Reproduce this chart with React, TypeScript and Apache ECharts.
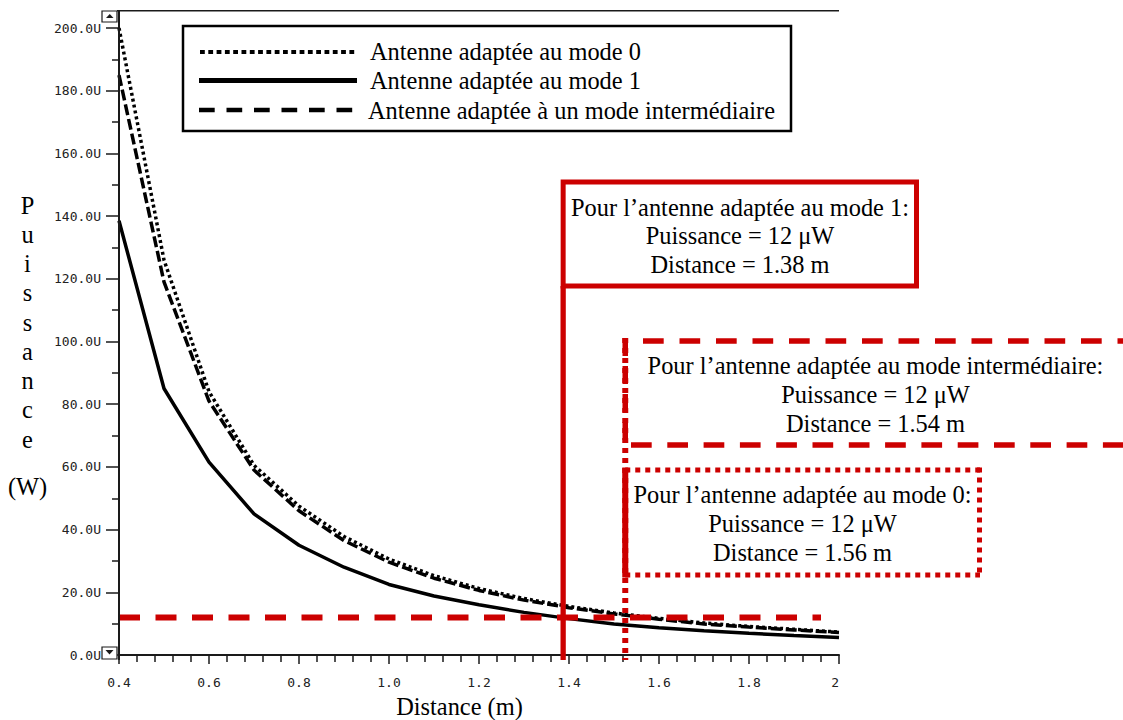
import React, { useEffect, useRef } from 'react';
import * as echarts from 'echarts';

// ---- Data ----
const distances = [0.4, 0.5, 0.6, 0.7, 0.8, 0.9, 1.0, 1.1, 1.2, 1.3, 1.4, 1.5, 1.6, 1.7, 1.8, 1.9, 2.0];
// Puissance (µW) — antenne adaptée au mode 0 (pointillés)
const puissanceMode0 = [200, 126, 84, 60.5, 47.5, 37.8, 30.6, 25.3, 21.2, 18, 15.5, 13.4, 11.7, 10.2, 9.1, 8.2, 7.3];
// Puissance (µW) — antenne adaptée au mode 1 (trait plein)
const puissanceMode1 = [138.5, 85, 61.5, 45, 35, 28, 22.5, 18.8, 16, 13.6, 11.6, 9.9, 8.7, 7.7, 6.9, 6.2, 5.6];
// Puissance (µW) — antenne adaptée à un mode intermédiaire (tirets)
const puissanceInter = [185, 119, 81, 59, 46, 36.5, 29.6, 24.5, 20.6, 17.5, 15.1, 13.1, 11.4, 9.9, 8.9, 8.0, 7.2];

const seuilPuissance = 12;
const seuilDistances = [0.4, 1.96];
const markerMode1 = 1.387;
const markerMode0 = 1.525;

const legendLabels = [
  'Antenne adaptée au mode 0',
  'Antenne adaptée au mode 1',
  'Antenne adaptée à un mode intermédiaire',
];
const box1Lines = ['Pour l’antenne adaptée au mode 1:', 'Puissance = 12 μW', 'Distance = 1.38 m'];
const boxInterLines = ['Pour l’antenne adaptée au mode intermédiaire:', 'Puissance = 12 μW', 'Distance = 1.54 m'];
const box0Lines = ['Pour l’antenne adaptée au mode 0:', 'Puissance = 12 μW', 'Distance = 1.56 m'];
const yNameLetters = ['P', 'u', 'i', 's', 's', 'a', 'n', 'c', 'e'];
const yNameUnit = '(W)';
const xName = 'Distance (m)';

export default function App() {
  const ref = useRef<HTMLDivElement>(null);

  useEffect(() => {
    const chart = echarts.init(ref.current!, null, { renderer: 'svg' });
    const red = '#cc0000';
    const ink = '#1a1a1a';
    const serif = '"Liberation Serif", "Times New Roman", serif';
    const mono = '"DejaVu Sans Mono", monospace';
    const font = `24.4px ${serif}`;
    const pairs = (ys: number[]) => distances.map((d, i) => [d, ys[i]]);

    chart.setOption({
      animation: false,
      backgroundColor: '#ffffff',
      grid: { left: 119, right: 284, top: 28, bottom: 65 },
      xAxis: {
        type: 'value',
        min: 0.4,
        max: 2,
        interval: 0.2,
        offset: 4,
        axisLine: { lineStyle: { color: ink, width: 2 } },
        axisTick: { show: true, length: 9, lineStyle: { color: ink, width: 1.5 } },
        minorTick: { show: true, splitNumber: 5, length: 7, lineStyle: { color: ink, width: 1.5 } },
        splitLine: { show: false },
        axisLabel: {
          margin: 17,
          fontFamily: mono,
          fontSize: 13,
          color: '#222',
          showMinLabel: true,
          showMaxLabel: true,
          alignMaxLabel: 'right',
          formatter: (v: number) => (Math.abs(v - 2) < 1e-9 ? '2' : v.toFixed(1)),
        },
      },
      yAxis: {
        type: 'value',
        min: 0,
        max: 200,
        interval: 20,
        axisLine: { show: true, lineStyle: { color: ink, width: 2 } },
        axisTick: { show: true, length: 13, lineStyle: { color: ink, width: 1.5 } },
        minorTick: { show: true, splitNumber: 2, length: 7, lineStyle: { color: ink, width: 1.5 } },
        splitLine: { show: false },
        axisLabel: {
          margin: 18,
          fontFamily: mono,
          fontSize: 13,
          color: '#222',
          formatter: (v: number) => v.toFixed(1) + 'U',
        },
      },
      series: [
        {
          name: legendLabels[0],
          type: 'line',
          data: pairs(puissanceMode0),
          symbol: 'none',
          lineStyle: { color: '#000', width: 3.5, type: [3, 3] },
          z: 3,
        },
        {
          name: legendLabels[2],
          type: 'line',
          data: pairs(puissanceInter),
          symbol: 'none',
          lineStyle: { color: '#000', width: 3.5, type: [11, 4] },
          z: 3,
        },
        {
          name: legendLabels[1],
          type: 'line',
          data: pairs(puissanceMode1),
          symbol: 'none',
          lineStyle: { color: '#000', width: 3.5 },
          z: 3,
        },
        {
          name: 'seuil',
          type: 'line',
          data: seuilDistances.map((d) => [d, seuilPuissance]),
          symbol: 'none',
          lineStyle: { color: red, width: 6, type: [21, 15.5] },
          z: 5,
        },
      ],
    });

    const px = (d: number) => chart.convertToPixel({ xAxisIndex: 0 }, d) as number;
    const x1 = px(markerMode1);
    const x2 = px(markerMode0);

    const textEl = (text: string, x: number, y: number, align = 'center') => ({
      type: 'text',
      x,
      y,
      style: { text, font, fill: '#000', align, verticalAlign: 'middle' },
      z: 20,
    });
    const lineEl = (
      xa: number, ya: number, xb: number, yb: number,
      stroke: string, lineWidth: number, lineDash?: number[]
    ) => ({
      type: 'line',
      shape: { x1: xa, y1: ya, x2: xb, y2: yb },
      style: { stroke, lineWidth, lineDash: lineDash || null },
      z: 15,
    });

    const elements: any[] = [
      // frame top line + full-height y axis line
      lineEl(117, 10.7, 839, 10.7, ink, 1.5),
      lineEl(119, 10, 119, 660, ink, 2),
      // scroll buttons
      { type: 'rect', shape: { x: 102, y: 11, width: 15, height: 11 }, style: { fill: '#fff', stroke: ink, lineWidth: 1.2 }, z: 15 },
      { type: 'polygon', shape: { points: [[106, 18], [113.5, 18], [109.75, 14]] }, style: { fill: ink }, z: 16 },
      { type: 'rect', shape: { x: 102, y: 647, width: 15, height: 12 }, style: { fill: '#fff', stroke: ink, lineWidth: 1.2 }, z: 15 },
      { type: 'polygon', shape: { points: [[105.5, 650], [113.5, 650], [109.5, 654.5]] }, style: { fill: ink }, z: 16 },

      // legend
      { type: 'rect', shape: { x: 183, y: 26, width: 608, height: 105 }, style: { fill: '#fff', stroke: '#000', lineWidth: 2.5 }, z: 14 },
      lineEl(200, 52, 356, 52, '#000', 4, [4.8, 3.5]),
      lineEl(199, 80.5, 357, 80.5, '#000', 5),
      lineEl(199, 110, 357, 110, '#000', 4.3, [15.7, 11.8]),
      textEl(legendLabels[0], 370, 51.5, 'left'),
      textEl(legendLabels[1], 370, 80.5, 'left'),
      textEl(legendLabels[2], 368, 110, 'left'),

      // axis names
      {
        type: 'text',
        x: 27.5,
        y: 190.4,
        style: { text: yNameLetters.join('\n'), font, fill: '#000', align: 'center', verticalAlign: 'top', lineHeight: 29.25 },
        z: 20,
      },
      textEl(yNameUnit, 27.5, 486),
      textEl(xName, 459.5, 706.5),

      // box for mode 1 (solid)
      { type: 'rect', shape: { x: x1, y: 182, width: 916.5 - x1, height: 104 }, style: { fill: '#fff', stroke: red, lineWidth: 5 }, z: 14 },
      lineEl(x1, 286, x1, 660, red, 5.3),
      textEl(box1Lines[0], 740, 207),
      textEl(box1Lines[1], 740, 235.5),
      textEl(box1Lines[2], 740, 264.5),

      // box for intermediate mode (dashed)
      lineEl(643, 341, 1123, 341, red, 5.5, [20.7, 15.8]),
      lineEl(631, 445, 1123, 445, red, 5.5, [20.7, 15.6]),
      lineEl(x2, 338, x2, 448, red, 5.5, [18, 10]),
      textEl(boxInterLines[0], 875.5, 365),
      textEl(boxInterLines[1], 875.5, 394),
      textEl(boxInterLines[2], 875.5, 423),

      // vertical dotted marker for mode 0
      lineEl(x2, 338, x2, 660, red, 6, [5, 5]),

      // box for mode 0 (dotted)
      lineEl(x2, 470, 980, 470, red, 5, [5, 5]),
      lineEl(x2, 575, 980, 575, red, 5, [5, 5]),
      lineEl(979.5, 467.5, 979.5, 577.5, red, 5, [5, 5]),
      lineEl(x2, 467.5, x2, 577.5, red, 6),
      textEl(box0Lines[0], 802.5, 494),
      textEl(box0Lines[1], 802.5, 523),
      textEl(box0Lines[2], 802.5, 552.5),
    ];

    chart.setOption({ graphic: { elements } });

    return () => chart.dispose();
  }, []);

  return <div ref={ref} style={{ position: 'fixed', left: 0, top: 0, width: 1123, height: 720 }} />;
}
